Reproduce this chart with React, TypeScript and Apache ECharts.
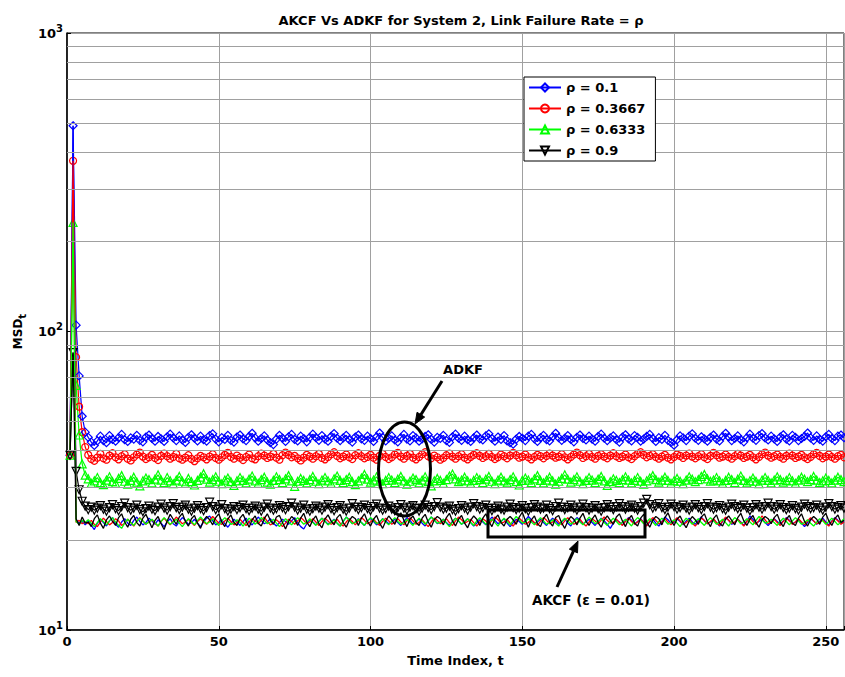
import React, { useEffect, useRef } from "react";
import * as echarts from "echarts";

const seriesNames = ["ρ = 0.1", "ρ = 0.3667", "ρ = 0.6333", "ρ = 0.9"];
const seriesColors = ["#0000ff", "#ff0000", "#00ff00", "#000000"];
const seriesSymbols = ["diamond", "circle", "triangle", "triangle"];
const symbolRotations = [0, 0, 0, 180];

const xTicks = [0, 50, 100, 150, 200, 250];
const yDecades = [10, 100, 1000];
const minorMultipliers = [2, 3, 4, 5, 6, 7, 8, 9];

// ADKF, rho = 0.1
const adkf1 = [38.5, 489, 105, 71, 52, 46,
  44.2,42.6,41.5,43.0,44.6,43.1,42.4,44.8,43.5,42.9,44.1,45.2,43.4,42.8,44.0,43.6,44.9,43.2,42.7,44.3,45.0,43.8,42.9,44.5,43.7,
  42.8,44.4,45.3,44.0,43.1,44.7,43.3,42.5,44.2,45.1,43.9,43.0,44.6,43.4,42.9,44.8,45.4,43.6,42.7,44.1,43.5,44.9,43.2,42.6,44.3,
  45.0,43.7,43.1,44.5,45.6,44.0,42.9,43.8,44.7,43.3,42.4,41.8,43.6,44.9,43.9,42.8,44.4,45.2,43.5,43.0,44.6,43.8,42.7,44.2,45.3,
  44.1,43.2,44.8,43.6,42.9,44.5,45.5,43.9,43.1,44.0,44.9,43.4,42.6,44.3,45.0,43.7,43.2,44.6,43.8,42.8,44.4,45.7,44.2,43.0,43.9,
  44.7,43.3,42.7,44.1,45.2,43.6,43.0,44.8,44.0,42.9,43.7,44.5,45.1,43.5,42.6,44.2,43.8,44.9,43.1,42.5,44.4,45.3,43.9,43.2,44.6,
  43.4,42.8,44.0,45.0,43.7,43.3,44.7,45.4,43.8,42.9,44.3,43.5,44.8,43.0,42.4,41.9,43.6,44.5,43.9,43.1,44.6,45.2,43.7,42.8,44.1,
  44.9,43.4,43.0,44.4,45.6,44.1,43.2,43.9,44.8,43.5,42.7,44.2,45.0,43.8,43.3,44.6,43.6,42.9,44.5,45.3,43.9,43.1,44.0,44.7,43.4,
  42.6,44.3,45.1,43.7,43.0,44.8,44.2,42.9,43.6,44.5,45.2,43.8,42.8,44.1,43.5,44.9,43.2,42.5,41.6,43.4,44.7,44.0,43.1,44.6,45.4,
  43.9,43.2,44.4,43.7,42.9,44.2,45.0,43.6,43.0,44.5,45.6,44.3,43.1,43.8,44.7,43.4,42.7,44.1,45.3,43.9,43.2,44.8,45.5,44.0,43.3,
  44.6,43.7,42.8,44.3,45.1,43.6,43.0,44.9,44.2,43.1,43.8,44.5,45.7,44.0,43.2,44.7,43.5,42.9,44.4,45.2,43.8,43.1,44.6,45.0,44.1];

// ADKF, rho = 0.3667
const adkf2 = [38.5, 373, 82, 56, 46, 41,
  38.6,37.4,36.9,37.8,38.9,37.6,37.2,38.4,39.1,37.9,37.3,38.2,38.8,37.5,37.0,37.9,38.7,39.3,38.1,37.4,37.9,38.6,37.7,37.1,38.3,
  39.0,38.2,37.5,38.0,38.9,37.6,37.2,37.8,38.5,37.4,36.8,37.6,38.3,37.9,37.3,38.1,38.8,37.7,37.2,37.9,38.6,39.2,38.0,37.5,38.4,
  37.8,37.1,38.0,38.7,37.6,37.3,38.2,39.0,38.4,37.7,38.1,38.9,37.8,37.2,38.5,39.3,38.6,37.9,38.3,37.6,37.0,37.8,38.6,38.1,37.5,
  38.2,38.9,37.7,37.3,38.0,38.8,39.4,38.3,37.6,38.1,38.7,37.9,37.4,38.5,39.1,38.2,37.6,38.0,38.6,37.8,37.2,38.3,38.9,38.0,37.4,
  37.9,38.7,39.2,38.1,37.5,38.3,38.9,37.8,37.3,38.0,38.8,39.4,38.2,37.6,38.4,37.9,37.2,37.7,38.5,39.0,38.1,37.5,38.2,38.8,37.8,
  37.3,38.0,38.6,39.1,38.3,37.7,38.2,38.9,38.0,37.4,37.9,38.7,38.2,37.6,38.4,39.2,38.5,37.8,38.1,38.7,37.9,37.3,38.0,38.6,38.2,
  37.6,38.3,39.0,38.4,37.8,38.1,38.8,37.9,37.3,38.0,38.7,39.3,38.5,37.7,38.2,38.9,38.0,37.5,38.3,38.8,38.1,37.6,38.4,39.1,38.2,
  37.7,38.1,38.7,37.9,37.4,38.2,38.9,39.4,38.6,37.9,38.3,38.8,38.0,37.5,38.1,38.6,37.8,37.3,38.0,38.7,38.3,37.7,38.4,39.0,38.1,
  37.6,38.2,38.8,37.9,37.4,38.3,39.2,38.5,37.8,38.1,38.7,38.0,37.5,38.2,38.9,38.4,37.7,38.1,38.6,37.9,37.3,38.0,38.8,39.3,38.4,
  37.8,38.2,38.7,38.0,37.5,38.3,39.0,38.4,37.7,38.1,38.6,37.9,37.4,38.0,38.8,39.2,38.3,37.6,38.1,38.7,38.0,37.5,38.2,38.6,37.9];

// ADKF, rho = 0.6333
const adkf3 = [38.5, 232, 66, 45, 36, 33,
  32.1,31.0,31.6,32.4,31.2,30.7,31.8,32.6,31.4,31.0,32.2,32.9,31.5,30.8,31.7,32.5,31.3,30.4,31.6,32.3,31.9,31.1,32.0,33.1,31.8,
  31.2,32.4,31.6,30.9,31.8,32.7,31.5,31.0,32.2,31.4,30.6,31.7,32.5,33.4,32.0,31.3,31.9,32.6,31.5,30.9,31.8,32.3,31.4,30.5,31.6,
  32.4,31.7,31.1,32.0,32.8,31.6,31.0,31.9,32.5,31.3,30.8,31.7,32.6,31.9,31.2,32.1,32.9,31.6,30.3,31.5,32.2,31.7,31.1,31.9,32.7,
  31.5,30.9,31.8,32.4,31.6,31.0,32.1,32.8,31.7,31.2,31.9,32.5,31.4,30.7,31.6,32.3,33.2,32.0,31.3,31.8,32.6,31.5,30.9,31.7,32.4,
  31.8,31.2,32.0,32.7,31.6,30.8,31.5,32.3,31.9,31.1,31.8,32.6,31.4,30.4,31.6,32.2,31.7,31.0,31.9,32.8,33.3,32.1,31.4,31.8,32.5,
  31.6,31.0,31.7,32.4,31.9,31.2,32.0,32.7,31.5,30.9,31.8,32.5,31.6,31.1,31.9,32.6,31.4,30.6,31.7,32.3,31.8,31.2,32.1,32.9,31.7,
  31.1,31.8,32.5,31.6,30.8,31.5,32.2,33.1,32.0,31.3,31.9,32.6,31.5,30.9,31.7,32.4,31.8,31.2,32.0,32.7,31.6,30.5,31.4,32.1,31.7,
  31.2,31.9,32.6,31.8,31.1,31.7,32.4,31.5,30.8,31.6,32.3,32.9,31.9,31.3,31.8,32.5,31.7,31.0,31.6,32.2,31.5,30.9,31.8,32.6,32.0,
  31.4,31.9,32.7,33.2,32.1,31.5,31.8,32.4,31.6,31.0,31.7,32.5,31.9,31.2,32.0,32.8,31.7,31.1,31.6,32.3,31.5,30.9,31.8,32.4,31.7,
  31.1,31.8,32.6,31.9,31.3,31.7,32.4,31.6,31.0,31.8,32.5,32.0,31.4,31.9,32.7,31.8,31.2,31.6,32.3,31.7,31.1,31.8,32.5,31.9,31.4];

// ADKF, rho = 0.9
const adkf4 = [38.5, 85, 34, 29.5, 27, 26,
  25.3,25.8,25.2,25.6,26.1,25.4,25.0,25.7,26.3,25.5,25.1,25.9,26.6,25.7,25.2,25.6,26.2,25.3,24.9,25.5,26.0,25.4,25.1,25.8,26.4,
  25.6,25.2,25.9,26.5,25.7,25.3,25.8,26.2,25.4,25.0,25.6,26.1,25.5,25.1,25.7,26.8,25.9,25.3,25.6,26.3,25.5,25.0,25.4,25.9,25.3,
  25.7,26.2,25.5,25.1,25.6,26.0,25.4,25.0,25.8,26.4,25.6,25.2,25.5,26.1,25.7,25.3,25.9,26.6,25.8,25.2,25.6,26.2,25.4,25.0,25.5,
  26.0,25.6,25.2,25.8,26.3,25.5,25.1,25.7,26.1,25.4,25.0,25.6,26.5,25.8,25.3,25.7,26.2,25.5,25.1,25.9,26.4,25.6,25.2,25.5,26.0,
  25.4,25.1,25.7,26.3,25.6,25.2,25.8,26.1,25.5,25.0,25.6,26.2,25.7,25.3,25.9,26.7,25.8,25.4,25.6,26.0,25.3,25.0,25.5,26.1,25.6,
  25.2,25.8,26.5,25.9,25.4,25.7,26.2,25.5,25.1,25.6,26.0,25.4,25.2,25.8,26.4,25.7,25.3,25.6,26.1,25.5,25.0,25.7,26.3,25.8,25.4,
  25.6,26.2,25.5,25.1,25.9,26.6,25.8,25.3,25.7,26.2,25.6,25.2,25.8,26.4,25.7,25.2,25.6,26.1,25.5,25.0,25.7,26.3,25.8,25.3,25.9,
  26.5,25.9,25.4,25.8,26.2,25.6,25.2,25.9,26.6,27.4,26.3,25.6,25.9,26.5,25.7,25.3,25.8,26.4,25.9,25.4,25.7,26.2,25.6,25.2,25.8,
  26.3,25.7,25.3,25.9,26.5,25.8,25.4,25.7,26.1,25.5,25.2,25.8,26.4,25.9,25.5,25.7,26.2,25.6,25.1,25.7,26.3,25.8,25.4,25.9,26.6,
  25.9,25.4,25.8,26.3,25.7,25.3,25.6,26.1,25.5,25.2,25.8,26.4,25.9,25.5,25.7,26.2,25.6,25.2,25.8,26.5,25.9,25.4,25.7,26.1,25.6];

// AKCF, rho = 0.1
const akcf1 = [38.5, 489, 23.4, 22.8, 23.1, 22.5,
  23.1,22.4,21.7,22.8,23.5,22.9,22.3,23.2,23.8,22.6,22.1,23.0,23.6,22.8,22.4,23.3,23.9,23.1,22.5,22.9,23.7,23.2,22.6,23.4,22.8,
  22.2,23.0,23.6,22.7,22.3,23.1,23.8,23.3,22.6,22.9,23.5,22.8,22.2,23.0,23.7,24.1,23.2,22.5,22.9,23.4,22.7,22.1,22.8,23.5,23.0,
  22.4,23.1,23.7,22.9,22.5,23.2,23.9,23.3,22.7,23.0,23.6,22.8,22.3,22.9,23.5,23.1,22.6,23.2,23.8,22.9,22.2,21.8,22.7,23.4,23.0,
  22.5,23.1,23.7,23.2,22.6,23.0,23.5,22.8,22.3,23.1,23.9,23.4,22.7,23.0,23.6,22.9,22.4,23.2,23.7,23.1,22.5,22.9,23.6,23.2,22.7,
  23.0,23.5,22.9,22.4,23.1,23.8,23.3,22.6,23.0,23.6,22.8,22.3,23.2,23.9,23.4,22.7,23.0,23.5,22.9,22.4,23.1,23.7,23.2,22.6,23.0,
  23.6,22.9,22.3,22.8,23.4,23.0,22.5,23.2,23.9,23.3,22.7,23.1,23.6,22.8,22.2,22.9,23.5,23.1,22.6,23.3,24.0,23.4,22.8,23.0,23.5,
  22.9,22.4,23.1,23.7,23.2,22.6,23.0,23.6,22.8,22.3,23.2,23.8,23.3,22.7,23.0,23.5,22.9,22.4,23.1,23.7,23.2,22.6,21.9,22.8,23.4,
  23.0,22.5,23.2,23.8,23.3,22.7,23.1,23.6,22.9,22.4,23.0,23.5,22.8,22.3,23.1,23.9,23.4,22.8,23.0,23.6,23.1,22.5,23.2,23.7,23.0,
  22.6,23.3,23.9,23.2,22.7,23.0,23.5,22.9,22.3,23.1,23.8,23.3,22.6,22.9,23.5,23.0,22.4,23.2,24.1,23.5,22.8,23.1,23.6,22.9,22.4,
  23.0,23.6,23.1,22.6,23.2,23.8,23.3,22.7,23.0,23.5,22.8,22.2,22.9,23.6,23.2,22.6,23.1,23.7,23.0,22.5,23.2,23.8,23.3,22.7,23.1];

// AKCF, rho = 0.3667
const akcf2 = [38.5, 373, 22.9, 23.3, 22.7, 23.0,
  22.7,23.3,22.6,22.2,23.0,23.7,23.1,22.5,22.9,23.6,23.2,22.4,22.8,23.5,22.9,22.3,23.1,23.8,23.2,22.6,23.0,23.4,22.8,22.3,23.1,
  23.7,23.0,22.5,23.2,23.9,23.3,22.7,23.0,23.5,22.9,22.4,23.1,23.6,23.0,22.6,23.3,24.0,23.4,22.8,22.6,23.2,23.7,23.1,22.5,22.9,
  23.5,22.9,22.4,23.0,23.6,23.2,22.7,23.3,23.9,23.1,22.5,22.8,23.4,22.9,22.2,22.8,23.5,23.1,22.6,23.2,23.8,23.3,22.7,23.0,23.6,
  23.0,22.4,23.1,23.7,23.2,22.6,22.9,23.5,22.8,22.3,23.0,23.6,23.1,22.5,23.2,23.8,23.3,22.7,23.0,23.5,22.9,22.4,23.1,23.7,23.2,
  22.6,23.0,23.6,23.0,22.5,23.2,23.8,23.2,22.6,22.9,23.4,22.8,22.2,23.0,23.7,23.3,22.7,23.1,23.6,22.9,22.4,23.2,23.9,23.4,22.8,
  23.1,23.5,22.9,22.3,23.0,23.6,23.2,22.6,23.3,23.9,23.4,22.8,23.0,23.5,22.8,22.3,23.1,23.7,23.2,22.6,22.9,23.4,22.9,22.4,23.1,
  23.8,23.3,22.7,23.0,23.6,23.0,22.5,23.2,23.8,23.1,22.6,22.9,23.5,22.8,22.3,23.0,23.6,23.2,22.7,23.3,23.9,23.3,22.8,23.0,23.5,
  22.9,22.4,23.1,23.7,23.1,22.6,23.0,23.5,22.9,22.3,23.2,23.8,23.3,22.7,23.0,23.6,23.0,22.5,23.2,23.8,23.2,22.6,22.9,23.4,22.8,
  22.3,23.0,23.7,23.3,22.7,23.1,23.6,22.9,22.4,23.2,23.9,23.3,22.8,23.0,23.5,22.9,22.3,23.1,23.7,23.1,22.6,23.3,24.1,23.4,22.7,
  23.0,23.5,22.9,22.4,23.1,23.7,23.2,22.6,23.0,23.6,23.0,22.5,23.2,23.8,23.2,22.7,22.9,23.4,22.8,22.3,23.1,23.7,23.2,22.6,23.0];

// AKCF, rho = 0.6333
const akcf3 = [38.5, 232, 23.1, 22.6, 23.3, 22.9,
  23.4,22.8,22.2,22.9,23.6,23.1,22.5,23.2,23.8,23.0,22.4,21.9,22.8,23.5,22.9,22.4,23.1,23.7,23.2,22.6,23.0,23.5,22.9,22.3,23.1,
  23.8,23.2,22.6,23.0,23.5,22.8,22.2,22.9,23.6,23.1,22.5,23.3,23.9,23.3,22.7,23.0,23.6,22.9,22.4,23.2,23.8,23.2,22.6,22.8,23.4,
  22.9,22.3,23.0,23.7,23.2,22.6,23.1,23.8,23.3,22.7,23.0,23.5,22.8,22.2,22.9,23.6,23.0,22.5,23.2,23.8,23.2,22.6,23.0,23.6,22.9,
  22.4,23.1,23.7,23.1,22.5,22.9,23.4,22.8,22.3,23.1,23.9,23.3,22.7,23.0,23.5,22.9,22.4,23.2,23.8,23.3,22.7,23.0,23.6,23.0,22.5,
  23.2,23.8,23.1,22.6,22.9,23.5,22.9,22.4,23.1,23.7,23.2,22.6,23.3,23.9,23.3,22.8,23.0,23.5,22.8,22.2,23.0,23.7,23.2,22.6,23.1,
  23.6,22.9,22.4,23.2,23.8,23.2,22.6,23.0,23.5,22.9,22.3,23.1,23.7,23.1,22.5,23.3,24.0,23.4,22.8,23.0,23.6,23.0,22.5,23.2,23.8,
  23.2,22.6,22.9,23.4,22.8,22.3,23.1,23.7,23.2,22.6,23.0,23.6,23.0,22.5,23.2,23.9,23.3,22.7,23.1,23.6,22.9,22.4,23.1,23.7,23.1,
  22.5,23.0,23.5,22.9,22.3,23.2,23.8,23.3,22.7,23.0,23.6,23.0,22.4,23.1,23.7,23.2,22.6,22.9,23.4,22.8,22.2,23.0,23.7,23.2,22.6,
  23.1,23.6,22.9,22.4,23.2,23.8,23.2,22.6,23.0,23.5,22.9,22.3,23.1,23.8,23.3,22.7,23.0,23.6,23.0,22.5,23.3,24.0,23.4,22.8,23.0,
  23.5,22.9,22.4,23.1,23.7,23.1,22.5,23.2,23.8,23.2,22.6,22.9,23.4,22.8,22.3,23.0,23.6,23.2,22.6,23.1,23.7,23.1,22.5,23.0,23.6];

// AKCF, rho = 0.9
const akcf4 = [38.5, 85, 23.6, 22.4, 23.9, 22.8,
  23.0,22.2,23.6,24.3,22.8,21.9,23.4,24.1,23.1,22.4,23.8,24.5,23.0,22.1,23.5,24.2,22.9,22.3,23.7,24.4,23.2,22.0,23.3,24.0,22.7,
  21.7,23.2,24.4,23.5,22.6,23.9,24.6,23.1,22.3,23.6,24.2,22.8,21.9,23.3,24.0,23.4,22.5,23.8,24.5,23.0,22.2,23.5,24.3,22.9,22.4,
  23.7,24.4,23.2,22.1,23.4,24.1,22.8,22.3,23.6,24.5,23.3,22.6,23.9,24.2,22.9,21.8,23.1,24.0,23.5,22.4,23.7,24.6,23.0,22.2,23.4,
  24.1,22.7,22.0,23.5,24.3,23.2,22.5,23.8,24.4,22.9,22.1,23.3,24.0,23.6,22.4,23.7,24.5,23.1,22.3,23.5,24.2,22.8,21.9,23.2,24.1,
  23.4,22.6,23.9,24.7,23.3,22.2,23.5,24.1,22.9,22.4,23.7,24.4,23.0,22.1,23.4,24.0,23.6,22.5,23.8,24.6,23.2,22.3,23.5,24.2,22.8,
  22.0,23.3,24.1,23.5,22.4,23.7,24.5,23.1,22.2,23.6,24.3,22.9,22.3,23.5,24.0,23.4,22.6,23.9,24.8,23.3,22.1,23.4,24.1,22.7,22.2,
  23.6,24.4,23.0,22.3,23.8,24.2,22.8,21.9,23.2,24.0,23.5,22.5,23.7,24.6,23.1,22.4,23.5,24.3,22.9,22.1,23.4,24.1,23.3,22.6,23.9,
  24.5,23.2,22.2,23.5,24.2,22.8,22.3,23.7,24.4,23.0,22.1,23.3,24.0,23.6,22.5,23.8,24.7,23.3,22.4,23.5,24.1,22.9,22.0,23.2,24.0,
  23.4,22.6,23.9,24.5,23.1,22.2,23.6,24.3,22.8,22.3,23.5,24.1,23.3,22.5,23.8,24.6,23.2,22.4,23.5,24.2,22.9,22.1,23.4,24.0,23.6,
  22.7,23.8,24.4,23.0,22.2,23.5,24.2,22.8,22.4,23.7,24.5,23.1,22.3,23.4,24.0,23.5,22.6,23.9,24.6,23.2,22.4,23.6,24.3,22.9,23.3];

const adkfData = [adkf1, adkf2, adkf3, adkf4];
const akcfData = [akcf1, akcf2, akcf3, akcf4];

const FONT = "DejaVu Sans";

export default function App() {
  const ref = useRef<HTMLDivElement>(null);
  useEffect(() => {
    if (!ref.current) return;
    const chart = echarts.init(ref.current, null, { renderer: "svg" });
    const toPairs = (arr: number[]) => arr.map((v, i) => [i + 1, v]);
    const minorValues: number[] = [];
    yDecades.slice(0, -1).forEach((d) => minorMultipliers.forEach((m) => minorValues.push(d * m)));

    const series: any[] = [];
    series.push({
      type: "line",
      name: "grid",
      data: [],
      silent: true,
      z: 1,
      markLine: {
        silent: true,
        symbol: "none",
        label: { show: false },
        lineStyle: { color: "#a0a0a0", width: 1, type: "solid" },
        data: minorValues.map((v) => ({ yAxis: v })),
      },
    });
    adkfData.forEach((arr, k) => {
      series.push({
        type: "line",
        name: seriesNames[k],
        data: toPairs(arr),
        z: 3,
        showAllSymbol: true,
        symbol: seriesSymbols[k],
        symbolRotate: symbolRotations[k],
        symbolSize: k === 1 ? 7 : 8,
        lineStyle: { color: seriesColors[k], width: 1.2 },
        itemStyle: { color: "rgba(0,0,0,0)", borderColor: seriesColors[k], borderWidth: 1.2 },
        emphasis: { disabled: true },
      });
    });
    akcfData.forEach((arr, k) => {
      series.push({
        type: "line",
        name: "AKCF " + seriesNames[k],
        data: toPairs(arr),
        z: 4,
        showSymbol: false,
        symbol: "none",
        lineStyle: { color: seriesColors[k], width: 1.3 },
        itemStyle: { color: seriesColors[k] },
        emphasis: { disabled: true },
      });
    });

    const arrow = (x1: number, y1: number, x2: number, y2: number) => {
      const dx = x2 - x1, dy = y2 - y1;
      const len = Math.sqrt(dx * dx + dy * dy);
      const ux = dx / len, uy = dy / len;
      const hl = 11, hw = 4.5;
      const bx = x2 - ux * hl, by = y2 - uy * hl;
      return [
        { type: "line", shape: { x1, y1, x2: bx, y2: by }, style: { stroke: "#000", lineWidth: 3 } },
        {
          type: "polygon",
          shape: { points: [[x2, y2], [bx - uy * hw, by + ux * hw], [bx + uy * hw, by - ux * hw]] },
          style: { fill: "#000", stroke: "#000", lineWidth: 1 },
        },
      ];
    };

    chart.setOption({
      animation: false,
      backgroundColor: "#fff",
      title: {
        text: "AKCF Vs ADKF for System 2, Link Failure Rate = ρ",
        left: 456,
        top: 9,
        textAlign: "center",
        textStyle: { fontFamily: FONT, fontSize: 13, fontWeight: "bold", color: "#000" },
      },
      legend: {
        data: seriesNames,
        orient: "vertical",
        left: 524,
        top: 77,
        z: 20,
        padding: [4, 10, 4, 4],
        itemGap: 8,
        itemWidth: 32,
        itemHeight: 10,
        borderColor: "#000",
        borderWidth: 1,
        backgroundColor: "#fff",
        selectedMode: false,
        textStyle: { fontFamily: FONT, fontSize: 13, fontWeight: "bold", color: "#000" },
      },
      grid: {
        left: 67,
        right: 1,
        top: 33,
        bottom: 47,
        show: true,
        borderColor: "#000",
        borderWidth: 1,
        backgroundColor: "#fff",
      },
      xAxis: {
        type: "value",
        min: 0,
        max: 256,
        interval: 50,
        name: "Time Index, t",
        nameLocation: "middle",
        nameGap: 24,
        nameTextStyle: { fontFamily: FONT, fontSize: 13, fontWeight: "bold", color: "#000" },
        axisLine: { show: true, onZero: false, lineStyle: { color: "#000", width: 1.5 } },
        axisTick: { show: true, inside: true, length: 4, lineStyle: { color: "#000" } },
        axisLabel: {
          fontFamily: FONT,
          fontSize: 13,
          fontWeight: "bold",
          color: "#000",
          margin: 5,
          customValues: xTicks,
        },
        splitLine: { show: true, lineStyle: { color: "#a0a0a0", width: 1 } },
      },
      yAxis: {
        type: "log",
        logBase: 10,
        min: 10,
        max: 1000,
        name: "{a|MSD}{b|t}",
        nameLocation: "middle",
        nameGap: 40,
        nameRotate: 90,
        nameTextStyle: {
          rich: {
            a: { fontFamily: FONT, fontSize: 12, fontWeight: "bold", color: "#000" },
            b: { fontFamily: FONT, fontSize: 10, fontWeight: "bold", color: "#000", padding: [8, 0, 0, 0] },
          },
        },
        axisLine: { show: true, lineStyle: { color: "#000", width: 1.5 } },
        axisTick: { show: true, inside: true, length: 4, lineStyle: { color: "#000" } },
        axisLabel: {
          margin: 4,
          formatter: (v: number) => `{b|10}{s|${Math.round(Math.log10(v))}}`,
          rich: {
            b: { fontFamily: FONT, fontSize: 13, fontWeight: "bold", color: "#000" },
            s: { fontFamily: FONT, fontSize: 10, fontWeight: "bold", color: "#000", padding: [0, 0, 10, 0] },
          },
        },
        splitLine: { show: true, lineStyle: { color: "#a0a0a0", width: 1 } },
      },
      series,
      graphic: [
        {
          type: "ellipse",
          shape: { cx: 404.5, cy: 469, rx: 26, ry: 47 },
          style: { fill: "none", stroke: "#000", lineWidth: 3 },
          z: 100,
        },
        {
          type: "rect",
          shape: { x: 488, y: 510, width: 157, height: 27 },
          style: { fill: "none", stroke: "#000", lineWidth: 3 },
          z: 100,
        },
        ...arrow(442, 381, 415, 424).map((e) => ({ ...e, z: 100 })),
        ...arrow(557, 587, 578, 541).map((e) => ({ ...e, z: 100 })),
        {
          type: "text",
          x: 463,
          y: 369,
          style: { text: "ADKF", fontFamily: FONT, fontSize: 13, fontWeight: "bold", fill: "#000", align: "center", verticalAlign: "middle" },
          z: 100,
        },
        {
          type: "text",
          x: 591,
          y: 600,
          style: { text: "AKCF (ε = 0.01)", fontFamily: FONT, fontSize: 13.5, fontWeight: "bold", fill: "#000", align: "center", verticalAlign: "middle" },
          z: 100,
        },
      ],
    });
    return () => chart.dispose();
  }, []);
  return <div ref={ref} style={{ position: "fixed", left: 0, top: 0, width: 845, height: 677 }} />;
}
